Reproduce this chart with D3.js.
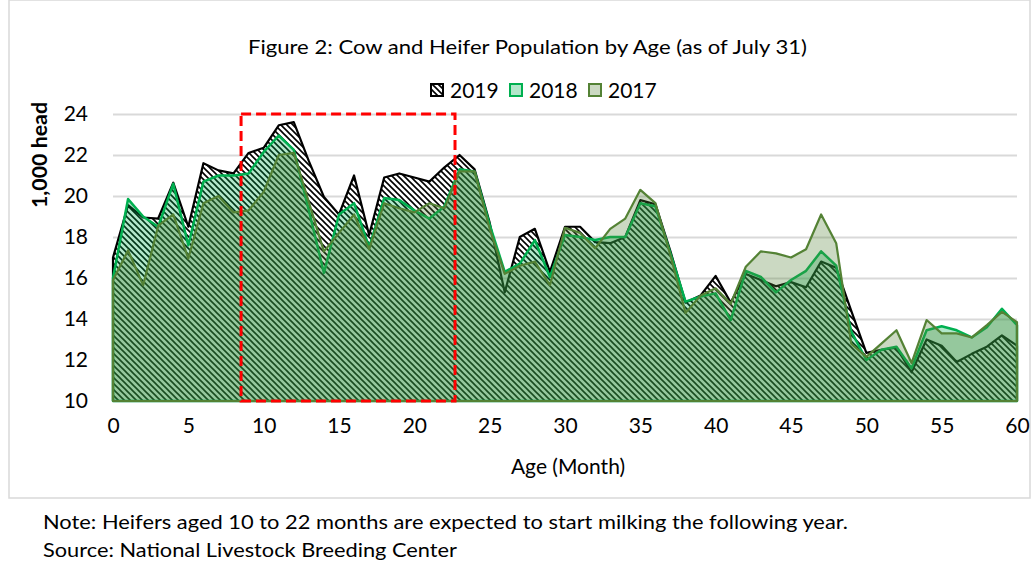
<!DOCTYPE html>
<meta charset="utf-8">
<html>
<head>
    <script src="https://d3js.org/d3.v7.min.js"></script>
    <style>
        body { margin: 0; background: #fff; }
        text { font-family: Lato, "Open Sans", sans-serif; fill: #000; }
    </style>
</head>
<body>
<script>
    // Chart data (1,000 head), month 0 to 60
    var months = d3.range(0, 61);
    var pop2019 = [17.0, 19.55, 18.95, 18.9, 20.65, 18.5, 21.6, 21.25, 21.1, 22.1,
        22.35, 23.45, 23.6, 21.7, 19.95, 19.1, 21.0, 18.1, 20.9, 21.1,
        20.9, 20.7, 21.4, 22.0, 21.3, 18.7, 15.3, 18.0, 18.4, 16.3,
        18.5, 18.5, 17.75, 17.7, 18.0, 19.8, 19.6, 17.3, 14.8, 15.15,
        16.1, 14.8, 16.2, 15.9, 15.6, 15.8, 15.55, 16.8, 16.5, 14.4,
        12.35, 12.5, 12.6, 11.4, 13.0, 12.7, 11.9, 12.3, 12.65, 13.2, 12.7];
    var pop2018 = [16.0, 19.85, 19.0, 18.5, 20.6, 17.6, 20.7, 21.0, 21.0, 21.1,
        22.15, 22.95, 22.25, 19.3, 16.25, 19.1, 19.65, 17.5, 19.9, 19.8,
        19.3, 18.9, 19.5, 21.3, 21.2, 18.6, 16.3, 16.7, 17.85, 16.05,
        18.1, 18.0, 17.85, 18.0, 18.0, 19.65, 19.5, 17.2, 14.85, 15.1,
        15.25, 13.95, 16.35, 16.05, 15.3, 15.9, 16.35, 17.3, 16.6, 13.4,
        12.0, 12.5, 12.65, 11.6, 13.45, 13.65, 13.45, 13.1, 13.6, 14.5, 13.7];
    var pop2017 = [15.9, 17.35, 15.65, 18.55, 19.1, 16.95, 19.65, 20.0, 19.2, 19.3,
        20.2, 22.0, 22.1, 19.7, 17.3, 18.2, 19.1, 17.4, 19.65, 19.4,
        19.2, 19.65, 19.4, 21.2, 21.2, 18.4, 16.2, 16.6, 16.8, 15.65,
        18.45, 18.2, 17.45, 18.4, 18.9, 20.3, 19.65, 17.1, 14.3, 15.15,
        15.5, 14.75, 16.55, 17.3, 17.2, 17.0, 17.4, 19.1, 17.7, 12.8,
        12.15, 12.8, 13.45, 11.85, 13.95, 13.3, 13.3, 13.1, 13.7, 14.35, 13.85];

    var years = ["2019", "2018", "2017"];
    var xTicks = d3.range(0, 61, 5);
    var yTicks = d3.range(10, 25, 2);
    // months highlighted by the dashed box
    var boxMonths = [8.5, 22.7];

    var width = 1034, height = 569;
    var plot = {left: 113, right: 1017, top: 114, bottom: 401};

    var svg = d3.select("body").append("svg")
        .attr("width", width)
        .attr("height", height);

    // hatch pattern for 2019
    var defs = svg.append("defs");
    var pat = defs.append("pattern")
        .attr("id", "hatch")
        .attr("patternUnits", "userSpaceOnUse")
        .attr("width", 6)
        .attr("height", 6);
    pat.append("rect").attr("width", 6).attr("height", 6).attr("fill", "#fff");
    pat.append("path")
        .attr("d", "M-1,-1L7,7M-1,5L1,7M5,-1L7,1")
        .attr("stroke", "#000")
        .attr("stroke-width", 1.6);

    // chart frame
    svg.append("rect")
        .attr("x", 9).attr("y", 0)
        .attr("width", 1021).attr("height", 498)
        .attr("fill", "none")
        .attr("stroke", "#d9d9d9")
        .attr("stroke-width", 1.5);

    var x = d3.scaleLinear().domain([0, 60]).range([plot.left, plot.right]);
    var y = d3.scaleLinear().domain([10, 24]).range([plot.bottom, plot.top]);

    // gridlines
    svg.append("g")
        .attr("transform", `translate(${plot.left},0)`)
        .call(d3.axisLeft(y).tickValues(yTicks).tickSize(-(plot.right - plot.left)).tickFormat(""))
        .call(g => g.select(".domain").remove())
        .call(g => g.selectAll("line").attr("stroke", "#d9d9d9").attr("stroke-width", 2));

    var series = [
        {name: "2019", values: pop2019, fill: "url(#hatch)", stroke: "#000", sw: 2.2, op: 1},
        {name: "2018", values: pop2018, fill: "#00b050", stroke: "#00b050", sw: 2.5, op: 0.3},
        {name: "2017", values: pop2017, fill: "#548235", stroke: "#548235", sw: 2.2, op: 0.3}
    ];

    var area = d3.area()
        .x((d, i) => x(months[i]))
        .y0(y(10))
        .y1(d => y(d));

    series.forEach(function(s) {
        svg.append("path")
            .datum(s.values)
            .attr("d", area)
            .attr("fill", s.fill)
            .attr("fill-opacity", s.op)
            .attr("stroke", s.stroke)
            .attr("stroke-width", s.sw)
            .attr("stroke-linejoin", "round");
    });

    // highlight box
    svg.append("rect")
        .attr("x", x(boxMonths[0]))
        .attr("y", y(24))
        .attr("width", x(boxMonths[1]) - x(boxMonths[0]))
        .attr("height", y(10) - y(24))
        .attr("fill", "none")
        .attr("stroke", "#ff0000")
        .attr("stroke-width", 3)
        .attr("stroke-dasharray", "10,5");

    // axes labels
    svg.append("g")
        .attr("transform", `translate(0,${plot.bottom})`)
        .call(d3.axisBottom(x).tickValues(xTicks).tickSize(0).tickPadding(25))
        .call(g => g.select(".domain").remove())
        .call(g => g.selectAll("text").style("font-size", "21px").attr("dy", "0.32em"));

    svg.append("g")
        .attr("transform", "translate(88,0)")
        .call(d3.axisLeft(y).tickValues(yTicks).tickSize(0).tickPadding(0))
        .call(g => g.select(".domain").remove())
        .call(g => g.selectAll("text").style("font-size", "21px"));

    svg.append("text")
        .attr("transform", "translate(47,155) rotate(-90)")
        .attr("text-anchor", "middle")
        .attr("textLength", 106)
        .attr("lengthAdjust", "spacingAndGlyphs")
        .style("font-size", "20px")
        .style("font-weight", "bold")
        .text("1,000 head");

    svg.append("text")
        .attr("x", 568).attr("y", 474)
        .attr("text-anchor", "middle")
        .style("font-size", "21px")
        .text("Age (Month)");

    svg.append("text")
        .attr("x", 248).attr("y", 54)
        .attr("textLength", 559)
        .attr("lengthAdjust", "spacingAndGlyphs")
        .style("font-size", "20px")
        .text("Figure 2: Cow and Heifer Population by Age (as of July 31)");

    // legend
    var legendX = [431, 510, 589];
    var legend = svg.append("g");
    series.forEach(function(s, i) {
        legend.append("rect")
            .attr("x", legendX[i]).attr("y", 84)
            .attr("width", 12).attr("height", 12)
            .attr("fill", s.fill)
            .attr("fill-opacity", s.op)
            .attr("stroke", s.stroke)
            .attr("stroke-width", 2);
        legend.append("text")
            .attr("x", legendX[i] + 19).attr("y", 98)
            .style("font-size", "21px")
            .text(years[i]);
    });

    // notes
    svg.append("text")
        .attr("x", 43).attr("y", 529)
        .attr("textLength", 805)
        .attr("lengthAdjust", "spacingAndGlyphs")
        .style("font-size", "20px")
        .text("Note: Heifers aged 10 to 22 months are expected to start milking the following year.");
    svg.append("text")
        .attr("x", 43).attr("y", 557)
        .attr("textLength", 414)
        .attr("lengthAdjust", "spacingAndGlyphs")
        .style("font-size", "20px")
        .text("Source: National Livestock Breeding Center");
</script>
</body>
</html>
